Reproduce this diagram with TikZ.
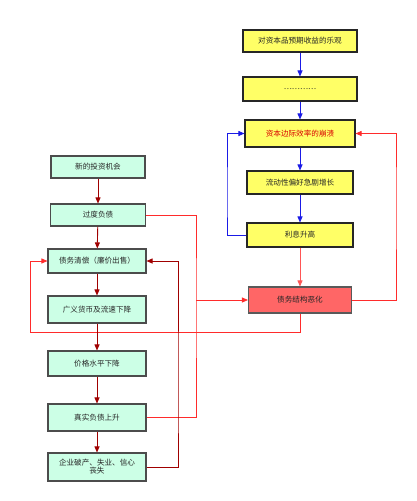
\documentclass[tikz,border=0pt]{standalone}
\usepackage{fontspec}
\newfontfamily\cjk{Noto Sans CJK SC}
\usetikzlibrary{arrows.meta}
\definecolor{ybox}{HTML}{FFFF66}
\definecolor{gbox}{HTML}{CCFFE6}
\definecolor{rbox}{HTML}{FF6666}
\definecolor{blueline}{HTML}{1A1AE6}
\definecolor{redline}{HTML}{FF2B2B}
\definecolor{lightred}{HTML}{FF5555}
\definecolor{darkred}{HTML}{A00000}
\definecolor{textc}{HTML}{262626}
\tikzset{
  x=1pt, y=-1pt,
  every node/.style={font=\cjk\fontsize{7.6}{9}\selectfont, text=textc, inner sep=0pt, align=center},
  ybx/.style={draw=black!85, line width=1.1pt, fill=ybox, rectangle},
  gbx/.style={draw=black!70, line width=1.1pt, fill=gbox, rectangle},
  rbx/.style={draw=black!65, line width=1.1pt, fill=rbox, rectangle},
  tip/.style={-{Triangle[length=6pt,width=5pt]}},
  bl/.style={draw=blueline, line width=0.9pt},
  rl/.style={draw=redline, line width=0.8pt},
  lrl/.style={draw=lightred, line width=0.8pt},
  drl/.style={draw=darkred, line width=0.9pt},
}
\begin{document}
\begin{tikzpicture}
\useasboundingbox (0,0) rectangle (416,501);
% right column
\node[ybx, minimum width=114pt, minimum height=22pt] (Y1) at (300,41) {对资本品预期收益的乐观};
\node[ybx, minimum width=114pt, minimum height=24pt] (Y2) at (300,89) {…………};
\node[ybx, minimum width=110pt, minimum height=27pt, text=red!85!black] (Y3) at (300,133.5) {资本边际效率的崩溃};
\node[ybx, minimum width=106pt, minimum height=23pt] (Y4) at (300,182.5) {流动性偏好急剧增长};
\node[ybx, minimum width=106pt, minimum height=24pt] (Y5) at (300,235) {利息升高};
\node[rbx, minimum width=103pt, minimum height=26pt] (R) at (300,300) {债务结构恶化};
% left column
\node[gbx, minimum width=94pt, minimum height=22pt] (G1) at (98,167) {新的投资机会};
\node[gbx, minimum width=95pt, minimum height=22pt] (G2) at (98,215) {过度负债};
\node[gbx, minimum width=98pt, minimum height=24pt] (G3) at (97,261) {债务清偿（廉价出售）};
\node[gbx, minimum width=98pt, minimum height=27pt] (G4) at (97,309.5) {广义货币及流速下降};
\node[gbx, minimum width=98pt, minimum height=25pt] (G5) at (97,363.5) {价格水平下降};
\node[gbx, minimum width=98pt, minimum height=27pt] (G6) at (97,417.5) {真实负债上升};
\node[gbx, minimum width=98pt, minimum height=28pt] (G7) at (97,467) {企业破产、失业、信心\\[-1pt]丧失};
% helper coordinates
\coordinate (cB) at (227,200);
\coordinate (cRR) at (396,200);
\coordinate (cR) at (196,300);
\coordinate (cL) at (30,332);
\coordinate (cD) at (178,400);
% blue connectors
\draw[bl, tip] (Y1) -- (Y2);
\draw[bl, tip] (Y2) -- (Y3);
\draw[bl, tip] (Y3) -- (Y4);
\draw[bl, tip] (Y4) -- (Y5);
\draw[bl, tip] (Y5.west) -| (cB) |- (Y3.west);
% red connectors
\draw[lrl, tip] (Y5) -- (R);
\draw[rl, tip] (R.east) -| (cRR) |- (Y3.east);
\draw[rl] (G2.east) -| (cR) |- (G6.east);
\draw[rl, tip] (cR) -- (R.west);
\draw[rl, tip] (R.south) |- (cL) |- (G3.west);
% dark red connectors
\draw[drl, tip] (G1) -- (G2);
\draw[drl, tip] (G2) -- (G3);
\draw[drl, tip] (G3) -- (G4);
\draw[drl, tip] (G4) -- (G5);
\draw[drl, tip] (G5) -- (G6);
\draw[drl, tip] (G6) -- (G7);
\draw[drl, tip] (G7.east) -| (cD) |- (G3.east);
\end{tikzpicture}
\end{document}
